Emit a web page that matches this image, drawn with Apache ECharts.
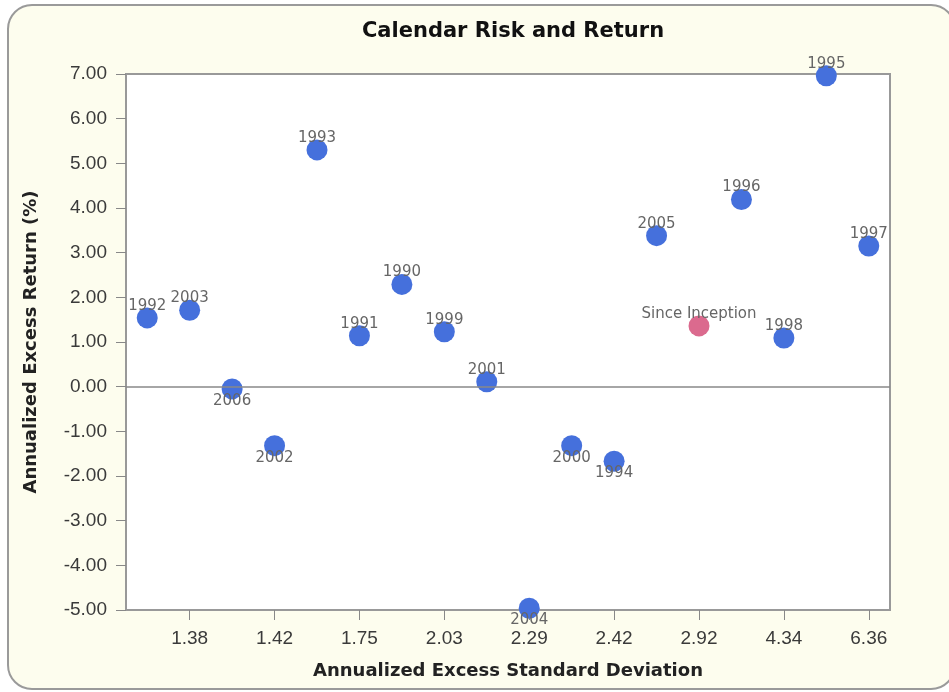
<!DOCTYPE html>
<html>
<head>
<meta charset="utf-8">
<title>Calendar Risk and Return</title>
<script src="https://cdn.jsdelivr.net/npm/echarts@6/dist/echarts.min.js"></script>
<style>
  html, body { margin: 0; padding: 0; background: #fff; }
  #main { width: 949px; height: 692px; }
</style>
</head>
<body>
<div id="main"></div>
<script>
// x categories: annualized excess std dev, sorted (only every other one is labelled)
var stdDevCategories = ['1.35', '1.38', '1.40', '1.42', '1.60', '1.75', '1.89', '2.03', '2.15',
  '2.29', '2.35', '2.42', '2.70', '2.92', '3.60', '4.34', '5.20', '6.36'];
// annualized excess return (%)
var excessReturn = [1.54, 1.71, -0.05, -1.32, 5.30, 1.14, 2.29, 1.23, 0.11,
  -4.96, -1.32, -1.67, 3.38, 1.36, 4.19, 1.09, 6.96, 3.15];
var pointNames = ['1992', '2003', '2006', '2002', '1993', '1991', '1990', '1999', '2001',
  '2004', '2000', '1994', '2005', 'Since Inception', '1996', '1998', '1995', '1997'];

var chart = echarts.init(document.getElementById('main'));

var points = [];
for (var i = 0; i < stdDevCategories.length; i++) {
  var below = excessReturn[i] < 0;
  var item = {
    name: pointNames[i],
    value: [stdDevCategories[i], excessReturn[i]],
    label: { offset: [0, below ? 12 : -12] }
  };
  if (pointNames[i] === 'Since Inception') {
    item.itemStyle = { color: '#db6a8e' };
  }
  points.push(item);
}

function oddOnly(idx) { return idx % 2 === 1; }

chart.setOption({
  backgroundColor: '#fff',
  animation: false,
  graphic: [{
    type: 'rect',
    z: -100,
    shape: { x: 8, y: 5, width: 947, height: 684, r: 24 },
    style: { fill: '#fdfdee', stroke: '#9a9a9a', lineWidth: 2 }
  }],
  title: {
    text: 'Calendar Risk and Return',
    left: 508,
    textAlign: 'center',
    top: 16,
    textStyle: { fontFamily: 'DejaVu Sans', fontWeight: 'bold', fontSize: 21, color: '#111' }
  },
  grid: {
    left: 126, right: 59, top: 74, bottom: 82,
    show: true, backgroundColor: '#fff', borderColor: '#999', borderWidth: 2
  },
  xAxis: {
    type: 'category',
    data: stdDevCategories,
    boundaryGap: true,
    name: 'Annualized Excess Standard Deviation',
    nameLocation: 'middle',
    nameGap: 52,
    nameTextStyle: { fontFamily: 'DejaVu Sans', fontWeight: 'bold', fontSize: 18, color: '#222' },
    axisLine: { show: false, onZero: false },
    axisTick: { show: true, interval: oddOnly, alignWithLabel: true, length: 10, lineStyle: { color: '#888' } },
    axisLabel: { interval: oddOnly, margin: 19, fontFamily: 'Liberation Sans', fontSize: 19, color: '#3a3a3a' },
    splitLine: { show: false }
  },
  yAxis: {
    type: 'value',
    min: -5, max: 7, interval: 1,
    name: 'Annualized Excess Return (%)',
    nameLocation: 'middle',
    nameGap: 86,
    nameTextStyle: { fontFamily: 'DejaVu Sans', fontWeight: 'bold', fontSize: 18, color: '#222' },
    axisLine: { show: false, onZero: false },
    axisTick: { show: true, length: 10, lineStyle: { color: '#888' } },
    axisLabel: {
      margin: 19, fontFamily: 'Liberation Sans', fontSize: 19, color: '#3a3a3a',
      formatter: function (v) { return v.toFixed(2); }
    },
    splitLine: { show: false }
  },
  series: [{
    type: 'scatter',
    symbol: 'circle',
    symbolSize: 21,
    itemStyle: { color: '#4570dc', opacity: 1 },
    label: {
      show: true,
      position: 'inside',
      formatter: '{b}',
      fontFamily: 'DejaVu Sans',
      fontSize: 15,
      color: '#666'
    },
    data: points,
    markLine: {
      silent: true,
      symbol: 'none',
      label: { show: false },
      lineStyle: { color: '#888', type: 'solid', width: 1.5 },
      data: [{ yAxis: 0 }]
    }
  }]
});
</script>
</body>
</html>
